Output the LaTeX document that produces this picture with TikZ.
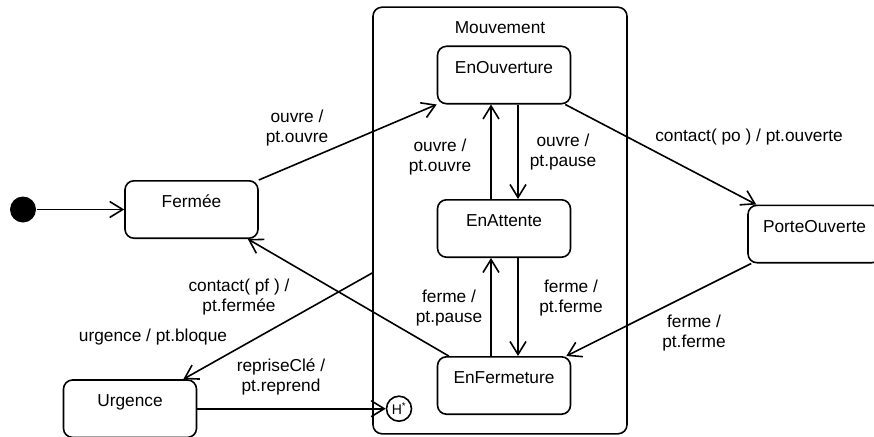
\documentclass[tikz,border=0pt]{standalone}
\usepackage{fontspec}
\setmainfont{Liberation Sans}
\usetikzlibrary{arrows.meta}
\tikzset{
	etat/.style      = {draw, rounded corners=9pt, minimum width=133pt,
		text height=12.4pt, text depth=16pt, inner ysep=14.5pt},
	composite/.style = {draw, rounded corners=9pt, minimum width=254pt,
		text height=12.4pt, text depth=387pt, inner ysep=13.6pt},
	initial/.style   = {fill, circle, minimum size=26pt, inner sep=0pt}, % pseudo-etat initial
	histo/.style     = {draw, circle, minimum size=25pt, inner sep=0pt,
		font=\fontsize{14}{16}\selectfont}, % historique
	lbl/.style       = {align=center, inner sep=1pt}
}

\begin{document}
\begin{tikzpicture}[x=1pt, y=-1pt, line width=1.6pt,
	>={Straight Barb[length=13pt,width=16pt]},
	font=\fontsize{17.3}{20.5}\selectfont]
	\useasboundingbox (0,0) rectangle (874,436);
	\draw
	node at (500,220.5) [composite] (mouv) {Mouvement}
	node at (23,209.5) [initial] (init) {}
	node at (191.5,209.5) [etat] (ferm) {Fermée}
	node at (504,75) [etat] (ouv) {EnOuverture}
	node at (504,228.5) [etat] (att) {EnAttente}
	node at (504,385.5) [etat] (fermt) {EnFermeture}
	node at (814.5,234) [etat] (porte) {PorteOuverte}
	node at (130,408.7) [etat] (urg) {Urgence}
	node at (399,408.7) [histo] (hist) {H\textsuperscript{*}};

	% etiquettes
	\draw
	node at (297,128) [lbl] (l1) {ouvre /\\pt.ouvre}
	node at (440,157) [lbl] (l2) {ouvre /\\pt.ouvre}
	node at (563,152) [lbl] (l3) {ouvre /\\pt.pause}
	node at (749,137) [lbl] (l4) {contact( po ) / pt.ouverte}
	node at (571,298) [lbl] (l5) {ferme /\\pt.ferme}
	node at (449,308) [lbl] (l6) {ferme /\\pt.pause}
	node at (694,333) [lbl] (l7) {ferme /\\pt.ferme}
	node at (239,297) [lbl] (l8) {contact( pf ) /\\pt.fermée}
	node at (153,337) [lbl] (l9) {urgence / pt.bloque}
	node at (281,377) [lbl] (l10) {repriseClé /\\pt.reprend};

	\draw[->](init)--(ferm);
	\draw[->](ferm.north east)--(ouv.south west);
	\draw[->]([xshift=14pt]ouv.south)--([xshift=14pt]att.north);
	\draw[->]([xshift=-13pt]att.north)--([xshift=-13pt]ouv.south);
	\draw[->]([xshift=-6pt]ouv.south east)--([xshift=9pt]porte.north west);
	\draw[->]([xshift=4pt]porte.south west)--([xshift=-5pt]fermt.north east);
	\draw[->]([xshift=14pt]att.south)--([xshift=14pt]fermt.north);
	\draw[->]([xshift=-13pt]fermt.north)--([xshift=-13pt]att.south);
	\draw[->]([xshift=12pt]fermt.north west)--([xshift=-11pt]ferm.south east);
	\draw[->]([yshift=-52.5pt]mouv.west)--([xshift=-14pt]urg.north east);
	\draw[->](urg.east)--(hist);
\end{tikzpicture}
\end{document}
